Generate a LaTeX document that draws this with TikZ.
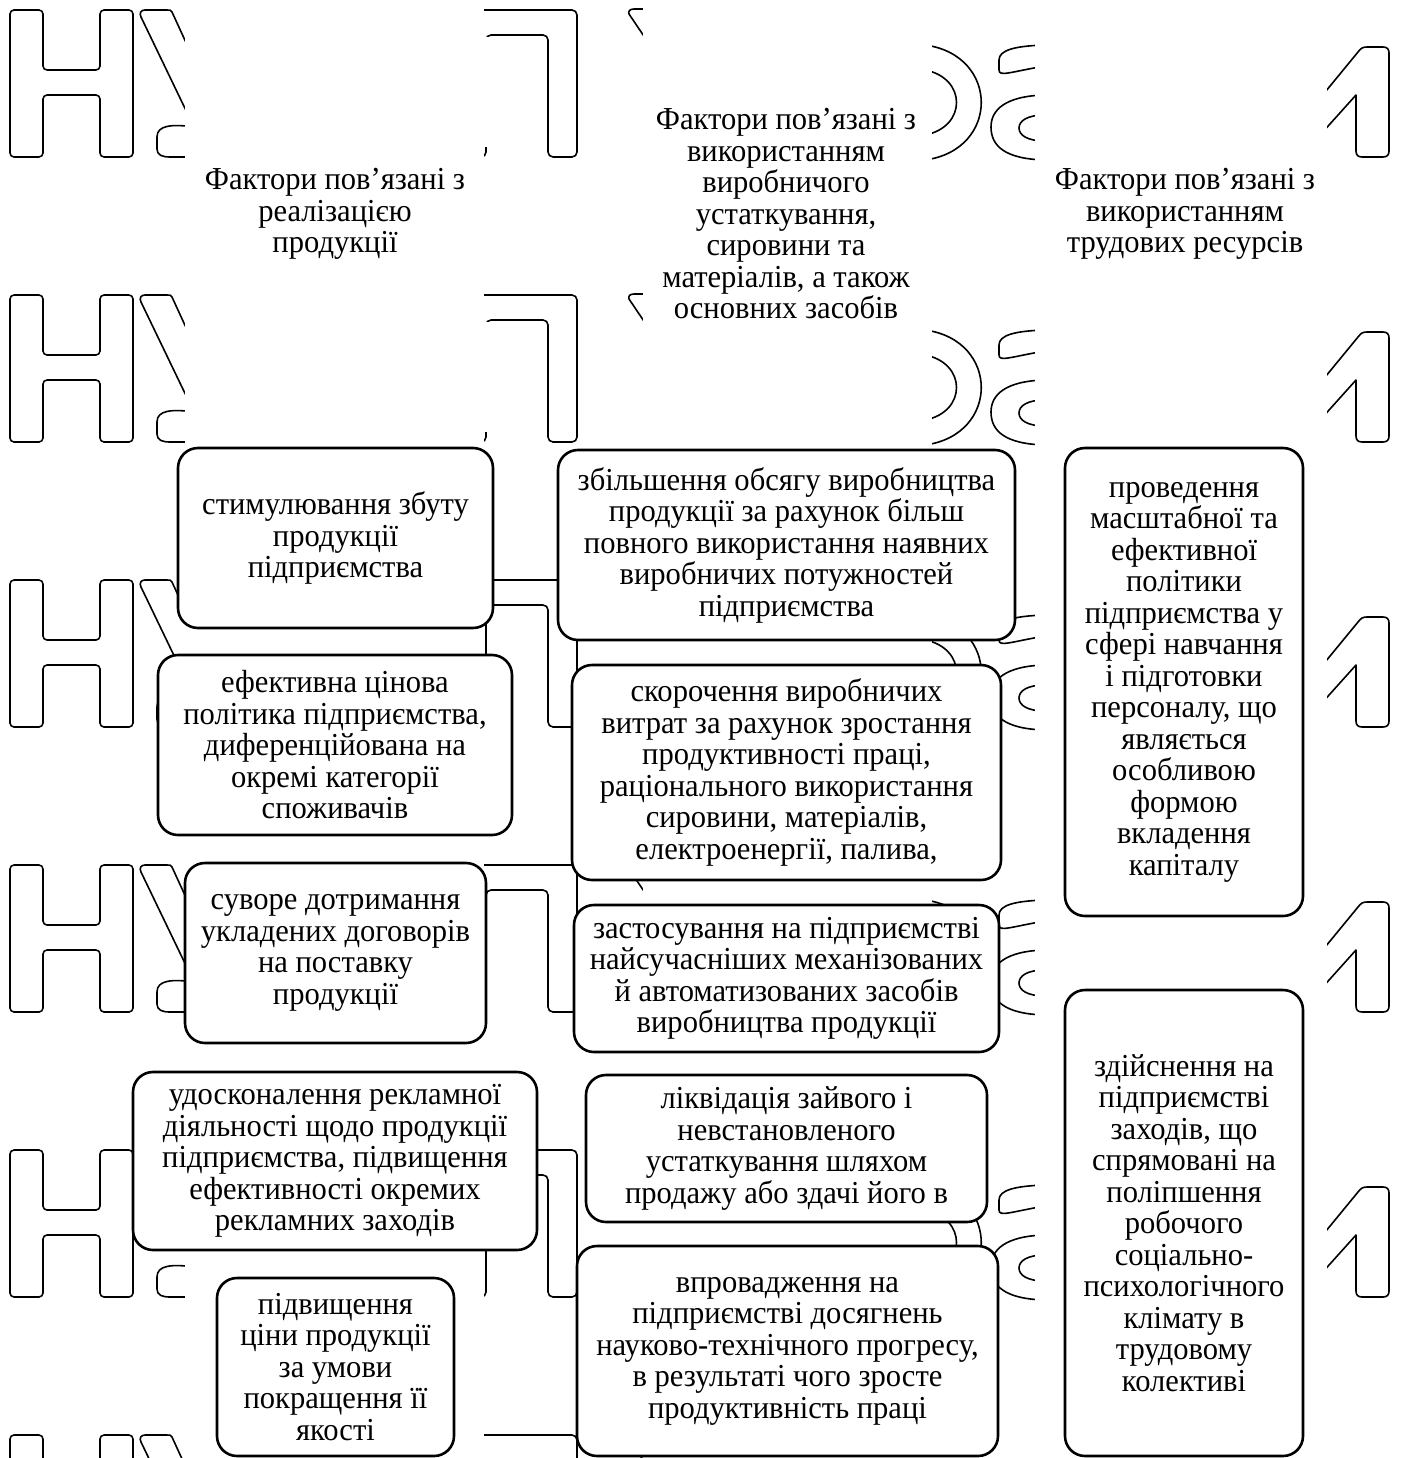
\documentclass[tikz,border=0pt]{standalone}
\usepackage{fontspec}
\setmainfont{Liberation Serif}[FakeStretch=0.955]
\begin{document}
\begin{tikzpicture}[x=1pt,y=-1pt,
  wm/.style={line width=1.6pt, line join=round},
  box/.style={draw, line width=2.6pt, rounded corners=20pt, fill=white, align=center, inner sep=0pt, font=\fontsize{32}{31.5}\selectfont},
  head/.style={align=center, inner sep=0pt, font=\fontsize{32}{31.5}\selectfont}]
\useasboundingbox (0,0) rectangle (1405,1458);
\fill[white] (0,0) rectangle (1405,1458);
% watermark tiles
\foreach \k in {0,...,5} {
\begin{scope}[shift={(0,285*\k)}]
 \draw[wm, rounded corners=4pt] (10,10) -- (43,10) -- (43,70) -- (100,70) -- (100,10) -- (133,10) -- (133,157) -- (100,157) -- (100,95) -- (43,95) -- (43,157) -- (10,157) -- cycle;
 \draw[wm] (205,84) -- (172,12) .. controls (171,10) and (170,10) .. (167,10) -- (145,10) .. controls (141,10) and (139,13) .. (141,17) -- (193,125);
 \draw[wm] (195,127) .. controls (172,124) and (157,125) .. (157,137) -- (157,149) .. controls (157,155) and (162,157) .. (170,157) -- (195,157);
 \draw[wm, rounded corners=5pt] (453,157) -- (453,10) -- (577,10) -- (577,157) -- (548,157) -- (548,35) -- (486,35) -- (486,157) -- cycle;
 \draw[wm] (660,60) -- (629,14) .. controls (628,11) and (630,9) .. (634,9) -- (660,9);
 \draw[wm] (925,45) .. controls (1000,55) and (1000,150) .. (925,160);
 \draw[wm] (925,70) .. controls (967,78) and (967,127) .. (925,135);
 \draw[wm] (1045,45) .. controls (1015,46) and (999,50) .. (999,60) -- (999,70) .. controls (999,77) and (1010,72) .. (1045,66);
 \draw[wm] (1045,95) .. controls (1005,96) and (991,110) .. (991,127) .. controls (991,146) and (1005,159) .. (1045,160);
 \draw[wm] (1045,115) .. controls (1027,115) and (1019,121) .. (1019,128) .. controls (1019,135) and (1027,141) .. (1045,141);
 \draw[wm] (1312,108) -- (1358,52) .. controls (1361,48) and (1363,47) .. (1367,47) -- (1383,47) .. controls (1387,47) and (1389,49) .. (1389,53) -- (1389,151) .. controls (1389,155) and (1387,157) .. (1383,157) -- (1362,157) .. controls (1358,157) and (1356,155) .. (1356,151) -- (1356,95) -- (1312,144);
\end{scope}
}
% white column strips
\fill[white] (185,0) rectangle (484,1458);
\fill[white] (643,0) rectangle (932,1458);
\fill[white] (1035,0) rectangle (1327,1458);
\fill[white] (484,37) rectangle (489.5,147);
\fill[white] (484,322) rectangle (489.5,432);
% headers
\node[head] (h1) at (335,214) {Фактори пов’язані з\\реалізацією\\продукції};
\node[head] (h2) at (786,214) {Фактори пов’язані з\\використанням\\виробничого\\устаткування,\\сировини та\\матеріалів, а також\\основних засобів};
\node[head] (h3) at (1185,214) {Фактори пов’язані з\\використанням\\трудових ресурсів};
% left column
\node[box, minimum width=315pt, minimum height=180pt] (l1) at (335.5,538) {стимулювання збуту\\продукції\\підприємства};
\node[box, minimum width=354pt, minimum height=180pt] (l2) at (335,745) {ефективна цінова\\політика підприємства,\\диференційована на\\окремі категорії\\споживачів};
\node[box, minimum width=301pt, minimum height=180pt] (l3) at (335.5,953) {суворе дотримання\\укладених договорів\\на поставку\\продукції};
\node[box, minimum width=404pt, minimum height=178pt] (l4) at (335,1161) {удосконалення рекламної\\діяльності щодо продукції\\підприємства, підвищення\\ефективності окремих\\рекламних заходів};
\node[box, minimum width=237pt, minimum height=178pt] (l5) at (335.5,1367) {підвищення\\ціни продукції\\за умови\\покращення її\\якості};
% middle column
\node[box, minimum width=457pt, minimum height=190pt] (m1) at (786.5,545) {збільшення обсягу виробництва\\продукції за рахунок більш\\повного використання наявних\\виробничих потужностей\\підприємства};
\node[box, minimum width=429pt, minimum height=215pt] (m2) at (786.5,772.5) {скорочення виробничих\\витрат за рахунок зростання\\продуктивності праці,\\раціонального використання\\сировини, матеріалів,\\електроенергії, палива,};
\node[box, minimum width=425pt, minimum height=147pt] (m3) at (786.5,978.5) {застосування на підприємстві\\найсучасніших механізованих\\й автоматизованих засобів\\виробництва продукції};
\node[box, minimum width=401pt, minimum height=147pt] (m4) at (786.5,1148.5) {ліквідація зайвого і\\невстановленого\\устаткування шляхом\\продажу або здачі його в};
\node[box, minimum width=421pt, minimum height=210pt] (m5) at (787.5,1351) {впровадження на\\підприємстві досягнень\\науково-технічного прогресу,\\в результаті чого зросте\\продуктивність праці};
% right column
\node[box, minimum width=238pt, minimum height=468pt] (r1) at (1184,682) {проведення\\масштабної та\\ефективної\\політики\\підприємства у\\сфері навчання\\і підготовки\\персоналу, що\\являється\\особливою\\формою\\вкладення\\капіталу};
\node[box, minimum width=238pt, minimum height=466pt] (r2) at (1184,1223) {здійснення на\\підприємстві\\заходів, що\\спрямовані на\\поліпшення\\робочого\\соціально-\\психологічного\\клімату в\\трудовому\\колективі};
\end{tikzpicture}
\end{document}
